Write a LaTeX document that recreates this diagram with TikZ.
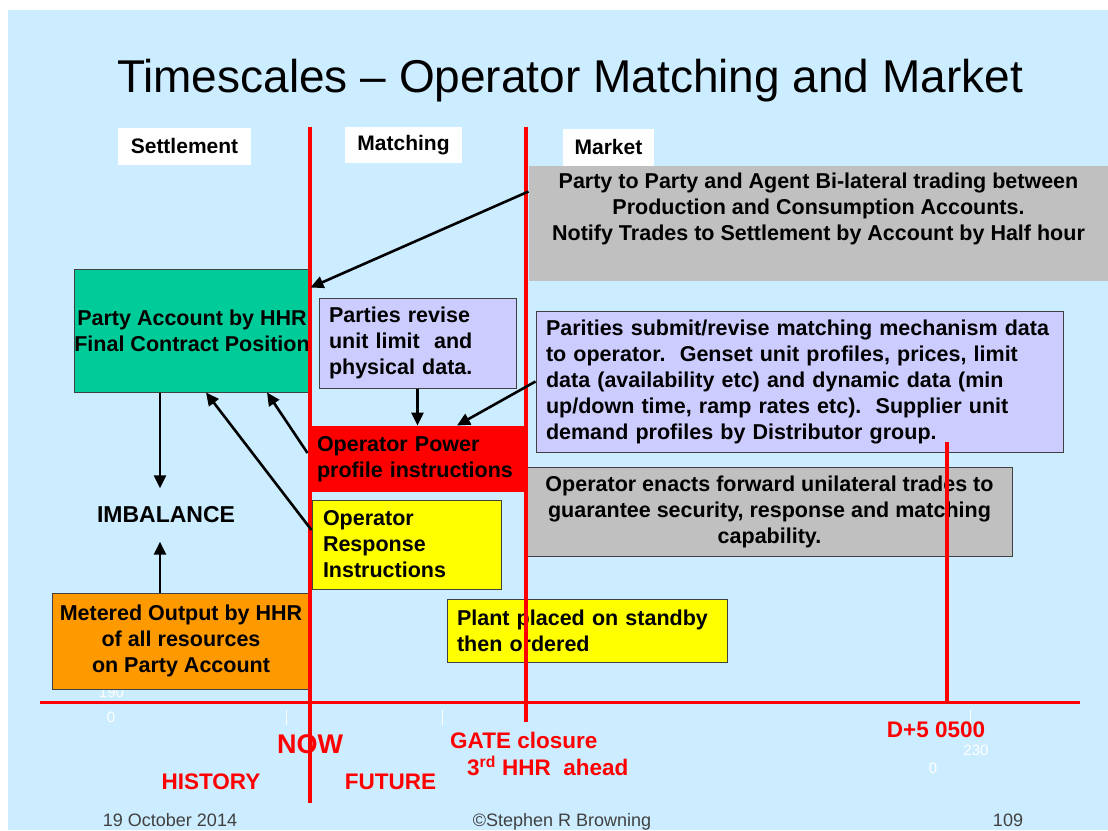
\documentclass[tikz,border=0pt]{standalone}
\usepackage{fontspec}
\setmainfont{Liberation Sans}
\usetikzlibrary{arrows.meta}

\definecolor{bgblue}{HTML}{CCECFF}
\definecolor{accgreen}{HTML}{00CC99}
\definecolor{lavender}{HTML}{CCCCFF}
\definecolor{boxgray}{HTML}{C0C0C0}
\definecolor{meterorange}{HTML}{FF9900}
\definecolor{boxyellow}{HTML}{FFFF00}

\tikzset{
  box/.style={draw=black!75, line width=1pt, inner ysep=0pt, font=\bfseries\fontsize{21.5}{26}\selectfont},
  leftbox/.style={box, align=left, inner xsep=10pt},
  midbox/.style={box, align=center, inner xsep=0pt},
  tag/.style={fill=white, inner sep=0pt, font=\bfseries\fontsize{21}{25}\selectfont},
  arr/.style={-{Triangle[length=13pt,width=12pt]}, line width=2.6pt},
  redline/.style={draw=red, line width=3.6pt},
  redtext/.style={text=red, inner sep=0pt, font=\bfseries\fontsize{22.5}{27}\selectfont},
  foot/.style={text=black!75, inner sep=0pt, font=\fontsize{18}{22}\selectfont},
  faint/.style={text=white, inner sep=0pt, font=\fontsize{15}{18}\selectfont}
}

\begin{document}
\begin{tikzpicture}[x=1pt,y=-1pt]
    \useasboundingbox (0,0) rectangle (1108,830);
    % Slide background
    \fill[bgblue] (8,10) rectangle (1108,830);

    % Left over chart marks
    \node[faint, anchor=base] (n190) at (111.5,697) {190};
    \node[faint, anchor=base] (n0a) at (111,722) {0};
    \node[faint, anchor=base] (n230) at (976,755) {230};
    \node[faint, anchor=base] (n0b) at (933,773) {0};
    \draw[white, line width=0.8pt] (286,710) -- (286,725);
    \draw[white, line width=0.8pt] (442,710) -- (442,725);
    \draw[white, line width=0.8pt] (970,710) -- (970,724);

    % Title
    \node[anchor=base, inner sep=0pt, font=\fontsize{46}{54}\selectfont] (title) at (570,92) {Timescales – Operator Matching and Market};

    % Column headings
    \node[tag, minimum width=133pt, minimum height=37pt] (settle) at (184.5,146) {Settlement};
    \node[tag, minimum width=117pt, minimum height=36pt] (match) at (403.5,145) {Matching};
    \node[tag, minimum width=91pt, minimum height=37pt] (market) at (608.5,147) {Market};

    % Boxes
    \node[box, fill=boxgray, draw=none, align=center, minimum width=579pt, minimum height=115pt] (trade) at (818.5,223.5)
        {Party to Party and Agent Bi-lateral trading between\\ Production and Consumption Accounts.\\ Notify Trades to Settlement by Account by Half hour\\ \strut};
    \node[midbox, fill=accgreen, minimum width=236pt, minimum height=123pt] (account) at (192,330.5)
        {Party Account by HHR\\ Final Contract Position};
    \node[leftbox, fill=lavender, text width=177pt, minimum height=90pt] (revise) at (417.5,343)
        {Parties revise\\ unit limit\ \ and\\ physical data.};
    \node[leftbox, fill=lavender, text width=507pt, minimum height=141pt] (parities) at (799.5,381.5)
        {Parities submit/revise matching mechanism data\\ to operator.\ \ Genset unit profiles, prices, limit\\ data (availability etc) and dynamic data (min\\ up/down time, ramp rates etc).\ \ Supplier unit\\ demand profiles by Distributor group.};
    \node[leftbox, fill=red, draw=none, inner xsep=9pt, text width=201pt, minimum height=66pt] (power) at (417.5,459)
        {Operator Power\\ profile instructions};
    \node[midbox, fill=boxgray, minimum width=485pt, minimum height=89pt] (enacts) at (769.5,511.5)
        {Operator enacts forward unilateral trades to\\ guarantee security, response and matching\\ capability.};
    \node[leftbox, fill=boxyellow, inner xsep=11pt, text width=167pt, minimum height=89pt] (response) at (406.5,544.5)
        {Operator\\ Response\\ Instructions};
    \node[leftbox, fill=boxyellow, text width=260pt, minimum height=63pt] (plant) at (587,630.5)
        {Plant placed on standby\\ then ordered};
    \node[midbox, fill=meterorange, minimum width=258pt, minimum height=96pt] (metered) at (181,641)
        {Metered Output by HHR\\ of all resources\\ on Party Account};
    \node[inner sep=0pt, minimum height=53pt, font=\bfseries\fontsize{23}{27}\selectfont] (imbalance) at (166,515) {IMBALANCE};

    % Time lines
    \draw[redline] (310,127) -- (310,803);
    \draw[redline] (526,127) -- (526,722);
    \draw[redline] (947,442) -- (947,703);
    \draw[redline, line width=3pt] (40,702) -- (1080,702);

    % Arrows
    \draw[arr] ([yshift=-26pt]trade.north west) -- ([yshift=-19pt]account.north east);
    \draw[arr] ([xshift=-32pt]account.south) -- ([xshift=-32pt]account.south |- imbalance.north);
    \draw[arr] ([xshift=-21pt]metered.north) -- ([xshift=-21pt]metered.north |- imbalance.south);
    \draw[arr] ([yshift=14.5pt]response.west) -- ([xshift=14pt]account.south);
    \draw[arr] ([yshift=6pt]power.west) -- ([xshift=75pt]account.south);
    \draw[arr] (revise.south) -- (revise.south |- power.north);
    \draw[arr] (parities.west) -- ([xshift=39.5pt]power.north);

    % Time labels
    \node[redtext, anchor=base, font=\bfseries\fontsize{27}{30}\selectfont] (now) at (310,753) {NOW};
    \node[redtext, anchor=base] (history) at (211,789) {HISTORY};
    \node[redtext, anchor=base] (future) at (390.5,789) {FUTURE};
    \node[redtext, anchor=base west] (gate) at (450,748) {GATE closure};
    \node[redtext, anchor=base west] (ahead) at (467,775) {3\textsuperscript{rd} HHR\ \ ahead};
    \node[redtext, anchor=base] (dfive) at (936,737) {D+5 0500};

    % Footer
    \node[foot, anchor=base] (date) at (170,826) {19 October 2014};
    \node[foot, anchor=base] (author) at (562,826) {©Stephen R Browning};
    \node[foot, anchor=base] (page) at (1008,826) {109};
\end{tikzpicture}
\end{document}
